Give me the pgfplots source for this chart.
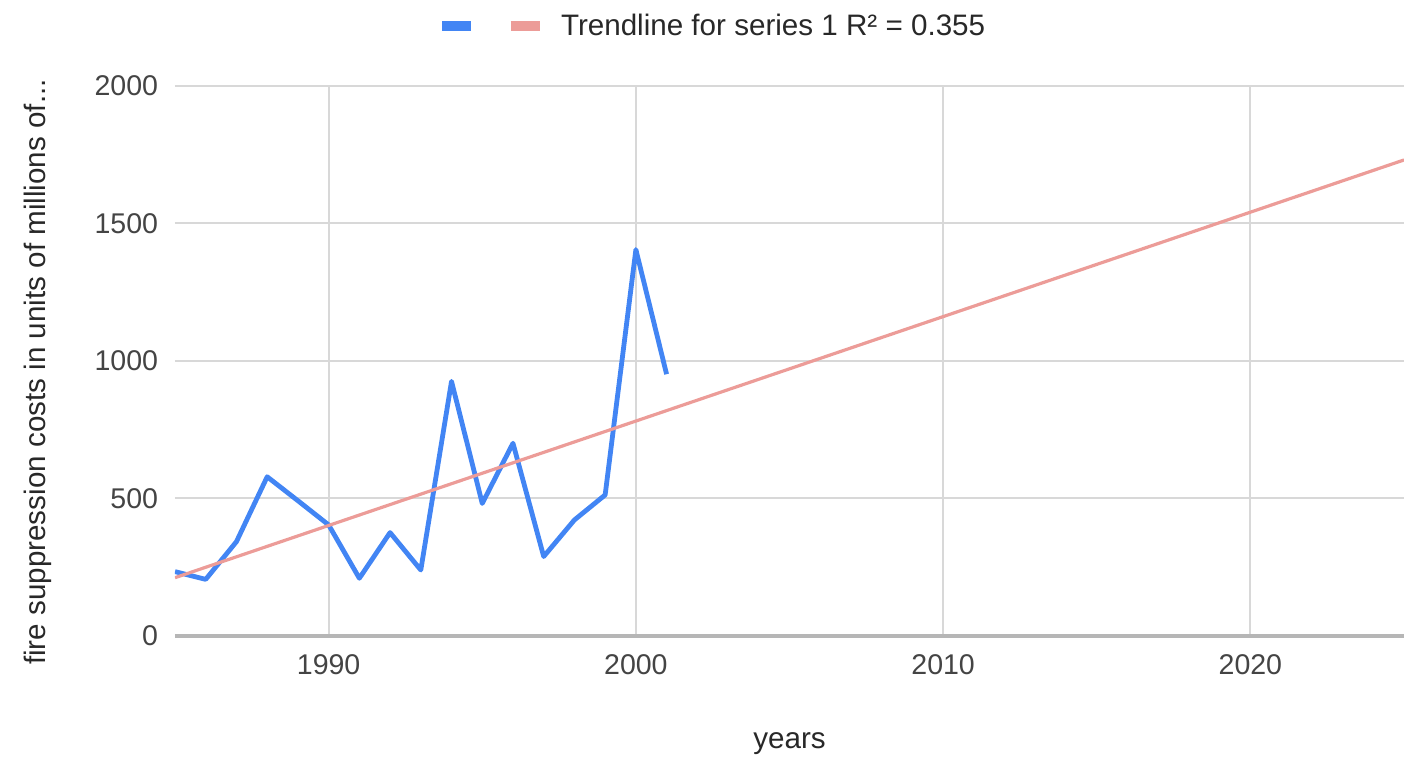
\documentclass[border=0pt]{standalone}
\usepackage{pgfplots}
\pgfplotsset{compat=1.18}
\usepackage{fontspec}
\setmainfont{Liberation Sans}

\definecolor{seriesblue}{RGB}{66,133,244}
\definecolor{trendred}{RGB}{236,156,152}
\definecolor{gridgray}{RGB}{216,216,216}
\definecolor{basegray}{RGB}{182,182,182}
\definecolor{ticktext}{RGB}{68,68,68}
\definecolor{labeltext}{RGB}{40,40,40}

\newcommand{\tickfont}{\fontsize{21.4pt}{25pt}\selectfont}
\newcommand{\chartfont}{\fontsize{22.2pt}{26pt}\selectfont}

% annual fire suppression costs (millions of dollars)
\pgfplotstableread{
year cost
1985 234
1986 206
1987 343
1988 579
1989 492
1990 404
1991 210
1992 376
1993 240
1994 926
1995 482
1996 701
1997 289
1998 422
1999 513
2000 1405
2001 952
}\costs

% least-squares trendline of the series above
\pgfplotstableread{
year cost
1985 212
2025 1731
}\trend

\begin{document}
\begin{tikzpicture}
\path[use as bounding box] (0pt,0pt) rectangle (1053pt,570.75pt);
\begin{axis}[
  at={(131.25pt,93.75pt)}, anchor=south west,
  scale only axis, width=921.75pt, height=412.5pt,
  xmin=1985, xmax=2025, ymin=0, ymax=2000,
  xtick={1990,2000,2010,2020},
  ytick={0,500,1000,1500,2000},
  extra y ticks={0}, extra y tick labels={},
  extra y tick style={grid=major, major grid style={basegray, line width=2.6pt}},
  grid=major,
  major grid style={gridgray, line width=1.5pt},
  axis line style={draw=none},
  major tick length=0pt,
  /pgf/number format/1000 sep={},
  /pgf/number format/assume math mode=true,
  tick label style={font=\tickfont, text=ticktext},
  xticklabel style={anchor=center, yshift=-21.75pt},
  yticklabel style={anchor=east, inner sep=0pt, xshift=-12.5pt},
  xlabel={years},
  xlabel style={font=\chartfont, text=labeltext, at={(axis description cs:0.5,0)}, anchor=center, yshift=-81pt},
  ylabel={fire suppression costs in units of millions of...},
  ylabel style={font=\chartfont, text=labeltext, at={(axis description cs:-0.1115,0.48)}, anchor=center},
  legend columns=-1,
  legend style={draw=none, fill=none, inner sep=0pt, outer sep=0pt,
    at={(axis description cs:0.2132,1.109)}, anchor=west,
    font=\chartfont, text=labeltext,
    nodes={inner sep=0pt},
    /tikz/every odd column/.style={column sep=12pt},
    /tikz/every even column/.style={column sep=9pt}},
  legend image code/.code={\draw[#1, line width=7.5pt, line cap=butt] (0pt,0pt) -- (22pt,0pt);},
]
\addplot[seriesblue, line width=3.6pt, line join=round] table[x=year, y=cost] {\costs};
\addlegendentry{}
\addplot[trendred, line width=2.4pt] table[x=year, y=cost] {\trend};
\addlegendentry{Trendline for series 1 R² = 0.355}
\end{axis}
\end{tikzpicture}
\end{document}
